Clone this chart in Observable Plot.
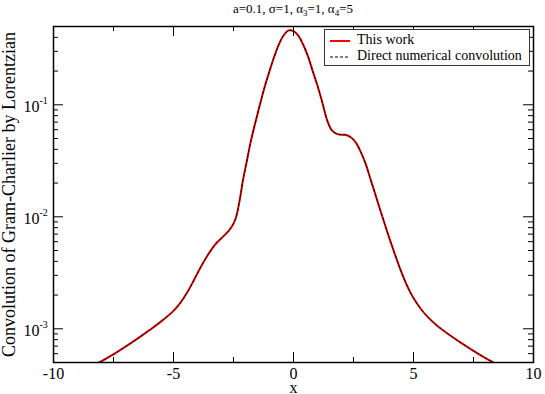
<!DOCTYPE html>
<html><head><meta charset="utf-8">
<script src="https://cdn.jsdelivr.net/npm/d3@7"></script>
<script src="https://cdn.jsdelivr.net/npm/@observablehq/plot@0.6"></script>
<style>
body{margin:0;background:#fff;}
#wrap{position:relative;width:545px;height:394px;font-family:"Liberation Serif","Times New Roman",serif;color:#000;}
#title{position:absolute;left:53px;width:480px;top:2px;text-align:center;font-size:13px;line-height:14px;}
#title sub{font-size:9px;vertical-align:-3px;line-height:0;}
#legend{position:absolute;left:324px;top:29px;width:206px;height:37px;border:1px solid #333;background:#fff;font-size:14px;line-height:17px;box-sizing:border-box;}
#legend .row{position:absolute;left:4px;white-space:nowrap;}
#legend svg{vertical-align:middle;margin-right:6px;}
</style></head><body>
<div id="wrap">
<div id="chart"></div>
<div id="title">a=0.1, σ=1, α<sub>3</sub>=1, α<sub>4</sub>=5</div>
<div id="legend">
 <div class="row" style="top:1px"><svg width="22" height="6"><line x1="1" y1="3" x2="21" y2="3" stroke="#ff0000" stroke-width="2"/></svg>This work</div>
 <div class="row" style="top:17px"><svg width="22" height="6"><line x1="1" y1="3" x2="21" y2="3" stroke="#000" stroke-width="1" stroke-dasharray="3,2"/></svg>Direct numerical convolution</div>
</div>
</div>
<script>
const xValues = [-10,-9,-8.5,-8.1,-7.5,-7.0,-6.5,-6.0,-5.5,-5.0,-4.7,-4.4,-4.1,-3.8,-3.5,-3.2,-2.9,-2.7,-2.55,-2.4,-2.25,-2.1,-1.95,-1.8,-1.6,-1.4,-1.2,-1.0,-0.8,-0.6,-0.4,-0.2,0,0.2,0.4,0.6,0.8,1.0,1.2,1.4,1.6,1.8,2.0,2.2,2.4,2.6,2.8,3.0,3.2,3.4,3.6,3.8,4.0,4.2,4.4,4.6,4.8,5.0,5.3,5.6,6.0,6.5,7.0,7.5,8.0,8.3,9,10];
const thisWork = [3.3e-4,4.1e-4,4.6e-4,5.0e-4,5.92e-4,6.92e-4,8.17e-4,9.72e-4,1.17e-3,1.445e-3,1.72e-3,2.16e-3,2.85e-3,3.76e-3,4.81e-3,5.86e-3,6.76e-3,7.5e-3,8.3e-3,9.8e-3,0.0138,0.0215,0.031,0.045,0.068,0.100,0.145,0.2,0.27,0.35,0.42,0.462,0.455,0.415,0.345,0.272,0.2,0.148,0.105,0.073,0.059,0.055,0.054,0.0538,0.051,0.046,0.038,0.030,0.022,0.0161,0.01175,0.00861,0.00638,0.00479,0.00363,0.00282,0.00226,0.00188,0.00151,0.00127,0.00106,8.81e-4,7.45e-4,6.35e-4,5.47e-4,5.04e-4,4.17e-4,3.39e-4];
const directConv = [3.3e-4,4.1e-4,4.6e-4,5.0e-4,5.92e-4,6.92e-4,8.17e-4,9.72e-4,1.17e-3,1.445e-3,1.72e-3,2.16e-3,2.85e-3,3.76e-3,4.81e-3,5.86e-3,6.76e-3,7.5e-3,8.3e-3,9.8e-3,0.0138,0.0215,0.031,0.045,0.068,0.100,0.145,0.2,0.27,0.35,0.42,0.462,0.455,0.415,0.345,0.272,0.2,0.148,0.105,0.073,0.059,0.055,0.054,0.0538,0.051,0.046,0.038,0.030,0.022,0.0161,0.01175,0.00861,0.00638,0.00479,0.00363,0.00282,0.00226,0.00188,0.00151,0.00127,0.00106,8.81e-4,7.45e-4,6.35e-4,5.47e-4,5.04e-4,4.17e-4,3.39e-4];
const majorX = [-10,-5,0,5,10];
const minorX = [-7.5,-2.5,2.5,7.5];
const majorY = [1e-3,1e-2,1e-1];
const yExponents = ["-3","-2","-1"];
const minorY = [6e-4,7e-4,8e-4,9e-4,2e-3,3e-3,4e-3,5e-3,6e-3,7e-3,8e-3,9e-3,0.02,0.03,0.04,0.05,0.06,0.07,0.08,0.09,0.2,0.3,0.4];
const yLabel = "Convolution of Gram-Charlier by Lorentzian";
const xLabel = "x";

const W = 545, H = 394, mL = 53, mR = 12, mT = 26, mB = 32;
const fw = W - mL - mR, fh = H - mT - mB;
const work = xValues.map((x, i) => ({x, y: thisWork[i]}));
const direct = xValues.map((x, i) => ({x, y: directConv[i]}));

const chart = Plot.plot({
  width: W, height: H, marginLeft: mL, marginRight: mR, marginTop: mT, marginBottom: mB,
  x: {domain: [-10, 10], label: null, axis: null},
  y: {type: "log", domain: [5e-4, 0.5], label: null, axis: null},
  style: {fontFamily: "'Liberation Serif','Times New Roman',serif", fontSize: "16px", color: "black", background: "white", overflow: "visible"},
  marks: [
    Plot.line(work, {x: "x", y: "y", stroke: "#ff0000", strokeWidth: 2, curve: "catmull-rom", clip: true}),
    Plot.line(direct, {x: "x", y: "y", stroke: "black", strokeWidth: 1, strokeDasharray: "3,2", curve: "catmull-rom", clip: true}),
    Plot.ruleX(majorX, {insetTop: fh - 10, stroke: "black"}),
    Plot.ruleX(majorX, {insetBottom: fh - 10, stroke: "black"}),
    Plot.ruleX(minorX, {insetTop: fh - 5, stroke: "black"}),
    Plot.ruleX(minorX, {insetBottom: fh - 5, stroke: "black"}),
    Plot.ruleY(majorY, {insetRight: fw - 10, stroke: "black"}),
    Plot.ruleY(majorY, {insetLeft: fw - 10, stroke: "black"}),
    Plot.ruleY(minorY, {insetRight: fw - 5, stroke: "black"}),
    Plot.ruleY(minorY, {insetLeft: fw - 5, stroke: "black"}),
    Plot.frame({stroke: "black", strokeWidth: 1.5}),
    Plot.text(majorX, {x: d => d, text: d => String(d), frameAnchor: "bottom", lineAnchor: "middle", dy: 11, fontSize: 16}),
    Plot.text(majorY, {y: d => d, text: () => "10", frameAnchor: "left", dx: -14, dy: 2, textAnchor: "end", fontSize: 16}),
    Plot.text(majorY, {y: d => d, text: (d, i) => yExponents[i], frameAnchor: "left", dx: -14, dy: -4, textAnchor: "start", fontSize: 10}),
    Plot.text([yLabel], {text: d => d, frameAnchor: "left", textAnchor: "middle", lineAnchor: "middle", rotate: -90, dx: -44, fontSize: 18}),
    Plot.text([xLabel], {text: d => d, frameAnchor: "bottom", lineAnchor: "bottom", dy: 30, fontSize: 16})
  ]
});
document.getElementById("chart").appendChild(chart);
</script>
</body></html>
